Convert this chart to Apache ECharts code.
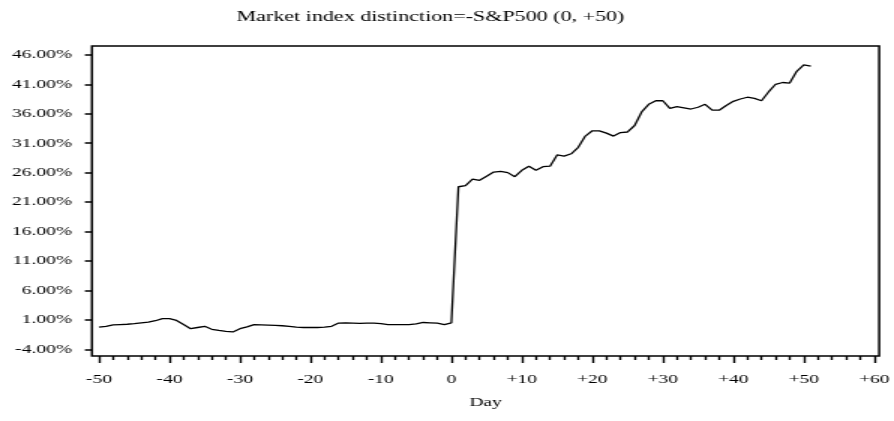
<!DOCTYPE html>
<html><head><meta charset="utf-8">
<script src="https://cdn.jsdelivr.net/npm/echarts@6/dist/echarts.min.js"></script>
<style>
html,body{margin:0;padding:0;background:#fff;overflow:hidden}
#wrap{width:894px;height:421px;overflow:hidden;position:relative}
#c{width:596px;height:421px;transform:scaleX(1.5);transform-origin:0 0}
</style></head><body><div id="wrap"><div id="c"></div></div>
<script>
const titleText = 'Market index distinction=-S&P500 (0, +50)';
const xName = 'Day';
const days = [-50,-49,-48,-47,-46,-45,-44,-43,-42,-41,-40,-39,-38,-37,-36,-35,-34,-33,-32,-31,
  -30,-29,-28,-27,-26,-25,-24,-23,-22,-21,-20,-19,-18,-17,-16,-15,-14,-13,-12,-11,
  -10,-9,-8,-7,-6,-5,-4,-3,-2,-1,0,
  1,2,3,4,5,6,7,8,9,10,11,12,13,14,15,16,17,18,19,20,
  21,22,23,24,25,26,27,28,29,30,31,32,33,34,35,36,37,38,39,40,
  41,42,43,44,45,46,47,48,49,50,51];
const cumReturn = [-0.25,-0.1,0.15,0.2,0.25,0.35,0.5,0.6,0.85,1.2,1.2,0.9,0.2,-0.5,-0.3,-0.1,-0.6,-0.8,-0.95,-1.05,
  -0.5,-0.2,0.2,0.15,0.1,0.05,0.0,-0.1,-0.25,-0.3,-0.3,-0.3,-0.25,-0.1,0.45,0.5,0.45,0.4,0.45,0.45,
  0.35,0.2,0.2,0.2,0.2,0.3,0.55,0.5,0.45,0.2,0.5,
  23.6,23.8,24.9,24.7,25.4,26.1,26.2,26.0,25.3,26.4,27.1,26.4,27.0,27.1,29.0,28.8,29.2,30.3,32.2,33.1,
  33.1,32.7,32.2,32.8,32.9,34.0,36.3,37.6,38.2,38.2,36.9,37.2,37.0,36.8,37.1,37.6,36.6,36.6,37.4,38.1,
  38.5,38.8,38.6,38.2,39.7,41.0,41.3,41.2,43.2,44.3,44.1];
const xMajorTicks = [-50,-40,-30,-20,-10,0,10,20,30,40,50,60];
const xTickLabels = ['-50','-40','-30','-20','-10','0','+10','+20','+30','+40','+50','+60'];
const xMinorTicks = [-48,-46,-44,-42,-38,-36,-34,-32,-28,-26,-24,-22,-18,-16,-14,-12,-8,-6,-4,-2,
  2,4,6,8,12,14,16,18,22,24,26,28,32,34,36,38,42,44,46,48,52,54,56,58];
const yTicks = [-4,1,6,11,16,21,26,31,36,41,46];
const yTickLabels = ['-4.00%','1.00%','6.00%','11.00%','16.00%','21.00%','26.00%','31.00%','36.00%','41.00%','46.00%'];

const FONT = '"Liberation Serif", "Times New Roman", serif';
const chart = echarts.init(document.getElementById('c'), null, {renderer:'canvas'});
chart.setOption({
  animation: false,
  backgroundColor: '#fff',
  graphic: [{
    type: 'text', x: 287, y: 10,
    style: {text: titleText, fill: '#000', font: '14.7px ' + FONT, textAlign: 'center'}
  }],
  grid: {left: 61.3, right: 6, top: 46, bottom: 65, show: true, borderColor: '#000', borderWidth: 1.5, backgroundColor: 'rgba(0,0,0,0)'},
  xAxis: [{
    type: 'value', min: -51, max: 60.7, position: 'bottom',
    axisLine: {show: false, onZero: false},
    splitLine: {show: false},
    axisTick: {show: true, customValues: xMajorTicks, length: 7, lineStyle: {color: '#000', width: 1.4}},
    axisLabel: {customValues: xMajorTicks, formatter: v => xTickLabels[xMajorTicks.indexOf(v)], margin: 17,
      color: '#000', fontFamily: FONT, fontSize: 13},
    name: xName, nameLocation: 'middle', nameGap: 40,
    nameTextStyle: {color: '#000', fontFamily: FONT, fontSize: 13}
  }, {
    type: 'value', min: -51, max: 60.7, position: 'bottom',
    axisLine: {show: false, onZero: false},
    splitLine: {show: false},
    axisTick: {show: true, customValues: xMinorTicks, length: 4, lineStyle: {color: '#000', width: 1.4}},
    axisLabel: {show: false}
  }],
  yAxis: {
    type: 'value', min: -5.14, max: 47.5,
    axisLine: {show: false, onZero: false},
    splitLine: {show: false},
    axisTick: {show: true, customValues: yTicks, length: 4.7, lineStyle: {color: '#000', width: 1.5}},
    axisLabel: {customValues: yTicks, formatter: v => yTickLabels[yTicks.indexOf(v)], margin: 13.3,
      color: '#000', fontFamily: FONT, fontSize: 13}
  },
  series: [{
    type: 'line', xAxisIndex: 0,
    data: days.map((d, i) => [d, cumReturn[i]]),
    showSymbol: false, symbol: 'none',
    lineStyle: {color: '#000', width: 1.3},
    silent: true
  }]
});
</script></body></html>
